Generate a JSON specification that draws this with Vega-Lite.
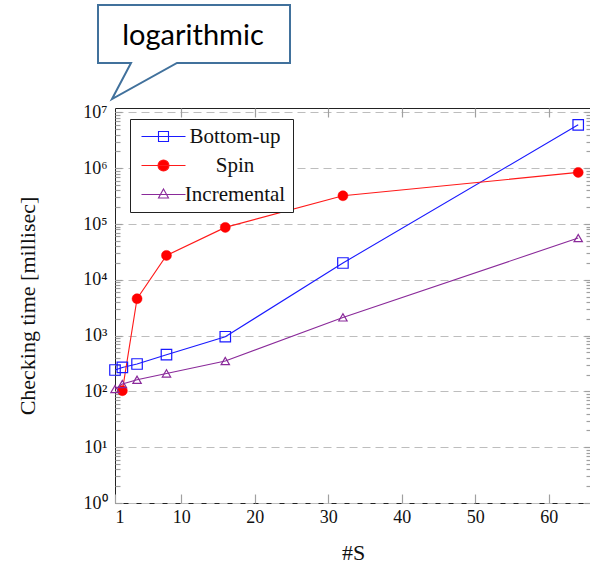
{
  "$schema": "https://vega.github.io/schema/vega-lite/v6.json",
  "width": 476,
  "height": 395,
  "autosize": "none",
  "padding": {"left": 115, "top": 108, "right": 0, "bottom": 65},
  "background": "white",
  "config": {
    "font": "Liberation Serif",
    "view": {"stroke": "#222222", "strokeWidth": 1},
    "axis": {
      "labelFont": "Liberation Serif",
      "titleFont": "Liberation Serif",
      "labelColor": "#111111",
      "titleColor": "#111111",
      "titleFontWeight": "normal",
      "tickColor": "#a0a0a0",
      "tickWidth": 1.2,
      "domain": false
    },
    "legend": {"labelFont": "Liberation Serif"}
  },
  "datasets": {
    "runs": [
      {"series": "Bottom-up", "s": 1, "time": 242},
      {"series": "Bottom-up", "s": 2, "time": 269},
      {"series": "Bottom-up", "s": 4, "time": 310},
      {"series": "Bottom-up", "s": 8, "time": 455},
      {"series": "Bottom-up", "s": 16, "time": 955},
      {"series": "Bottom-up", "s": 32, "time": 20000},
      {"series": "Bottom-up", "s": 64, "time": 6000000},
      {"series": "Spin", "s": 2, "time": 103},
      {"series": "Spin", "s": 4, "time": 4580},
      {"series": "Spin", "s": 8, "time": 27400},
      {"series": "Spin", "s": 16, "time": 87000},
      {"series": "Spin", "s": 32, "time": 321000},
      {"series": "Spin", "s": 64, "time": 841000},
      {"series": "Incremental", "s": 1, "time": 110},
      {"series": "Incremental", "s": 2, "time": 136},
      {"series": "Incremental", "s": 4, "time": 162},
      {"series": "Incremental", "s": 8, "time": 210},
      {"series": "Incremental", "s": 16, "time": 351},
      {"series": "Incremental", "s": 32, "time": 2120},
      {"series": "Incremental", "s": 64, "time": 56000}
    ]
  },
  "layer": [
    {
      "data": {"name": "runs"},
      "mark": {"type": "line", "strokeWidth": 1.1, "opacity": 1},
      "encoding": {
        "x": {
          "field": "s", "type": "quantitative",
          "scale": {"domain": [1, 65.74], "nice": false, "zero": false},
          "axis": {
            "orient": "bottom", "values": [1, 10, 20, 30, 40, 50, 60],
            "tickSize": -9, "labelPadding": 14, "labelFontSize": 18, "labelFont": "Liberation Serif",
            "grid": false, "title": "#S", "titleFontSize": 22, "titleFont": "Liberation Serif", "titlePadding": 16
          }
        },
        "y": {
          "field": "time", "type": "quantitative",
          "scale": {"type": "log", "domain": [1, 12000000], "nice": false},
          "axis": {
            "orient": "left",
            "values": [1, 10, 100, 1000, 10000, 100000, 1000000, 10000000],
            "labelExpr": "'10' + ['⁰','¹','²','³','⁴','⁵','⁶','⁷'][round(log(datum.value)/LN10)]",
            "tickSize": -7, "labelPadding": 15, "labelFontSize": 18, "labelFont": "Liberation Serif",
            "grid": true, "gridDash": [8, 5], "gridColor": "#bdbdbd", "gridWidth": 1.2,
            "title": "Checking time [millisec]", "titleFontSize": 22, "titleFont": "Liberation Serif", "titlePadding": 43
          }
        },
        "color": {
          "field": "series", "type": "nominal",
          "scale": {"domain": ["Spin", "Bottom-up", "Incremental"], "range": ["#ff1a1a", "#1a1aff", "#8a2a9a"]},
          "legend": null
        }
      }
    },
    {
      "data": {"name": "runs"},
      "transform": [{"filter": "datum.series === 'Bottom-up'"}],
      "mark": {"type": "point", "shape": "square", "size": 110, "filled": false, "stroke": "#1a1aff", "strokeWidth": 1.2, "opacity": 1},
      "encoding": {
        "x": {
          "field": "s", "type": "quantitative",
          "scale": {"domain": [1, 65.74], "nice": false, "zero": false},
          "axis": {
            "orient": "top", "values": [10, 20, 30, 40, 50, 60],
            "tickSize": -9, "labels": false, "grid": false, "title": null
          }
        },
        "y": {
          "field": "time", "type": "quantitative",
          "scale": {"type": "log", "domain": [1, 12000000], "nice": false},
          "axis": {
            "orient": "left",
            "values": [2,3,4,5,6,7,8,9,20,30,40,50,60,70,80,90,200,300,400,500,600,700,800,900,2000,3000,4000,5000,6000,7000,8000,9000,20000,30000,40000,50000,60000,70000,80000,90000,200000,300000,400000,500000,600000,700000,800000,900000,2000000,3000000,4000000,5000000,6000000,7000000,8000000,9000000],
            "tickSize": -5, "labels": false, "grid": false, "title": null
          }
        }
      }
    },
    {
      "data": {"name": "runs"},
      "transform": [{"filter": "datum.series === 'Spin'"}],
      "mark": {"type": "point", "shape": "circle", "size": 100, "filled": true, "fill": "#ff0000", "stroke": "#ff0000", "strokeWidth": 0.5, "opacity": 1},
      "encoding": {
        "x": {"field": "s", "type": "quantitative", "scale": {"domain": [1, 65.74], "nice": false, "zero": false}, "axis": null},
        "y": {"field": "time", "type": "quantitative", "scale": {"type": "log", "domain": [1, 12000000], "nice": false}, "axis": null}
      }
    },
    {
      "data": {"name": "runs"},
      "transform": [{"filter": "datum.series === 'Incremental'"}],
      "mark": {"type": "point", "shape": "triangle-up", "size": 70, "filled": false, "stroke": "#8a2a9a", "strokeWidth": 1.2, "opacity": 1},
      "encoding": {
        "x": {"field": "s", "type": "quantitative", "scale": {"domain": [1, 65.74], "nice": false, "zero": false}, "axis": null},
        "y": {"field": "time", "type": "quantitative", "scale": {"type": "log", "domain": [1, 12000000], "nice": false}, "axis": null}
      }
    },
    {
      "data": {"name": "runs"},
      "mark": {"type": "point", "filled": false, "opacity": 0},
      "encoding": {
        "x": {"field": "s", "type": "quantitative", "scale": {"domain": [1, 65.74], "nice": false, "zero": false}, "axis": null},
        "y": {"field": "time", "type": "quantitative", "scale": {"type": "log", "domain": [1, 12000000], "nice": false}, "axis": null},
        "shape": {
          "field": "series", "type": "nominal",
          "scale": {
            "domain": ["Bottom-up", "Spin", "Incremental"],
            "range": ["M-1.2,0H7.6M2.2,-1H4.2V1H2.2Z", "M-1.2,0H7.6M2.1,0A1.1,1.1 0 1,0 4.3,0A1.1,1.1 0 1,0 2.1,0Z", "M-1.2,0H7.6M3.2,-1.1L4.2,0.7H2.2Z"]
          },
          "legend": {
            "title": null, "orient": "none", "legendX": 15, "legendY": 11,
            "direction": "vertical",
            "fillColor": "white", "strokeColor": "#222222", "padding": 7,
            "labelFont": "Liberation Serif", "labelFontSize": 21, "labelColor": "#111111",
            "labelAlign": "center", "labelOffset": 77, "labelLimit": 0,
            "symbolSize": 100, "symbolStrokeWidth": 1.1, "symbolOpacity": 1, "rowPadding": 7
          }
        },
        "stroke": {
          "field": "series", "type": "nominal",
          "scale": {"domain": ["Bottom-up", "Spin", "Incremental"], "range": ["#1a1aff", "#ff1a1a", "#8a2a9a"]},
          "legend": {
            "title": null, "orient": "none", "legendX": 15, "legendY": 11,
            "direction": "vertical",
            "fillColor": "white", "strokeColor": "#222222", "padding": 7,
            "labelFont": "Liberation Serif", "labelFontSize": 21, "labelColor": "#111111",
            "labelAlign": "center", "labelOffset": 77, "labelLimit": 0,
            "symbolSize": 100, "symbolStrokeWidth": 1.1, "symbolOpacity": 1, "rowPadding": 7
          }
        },
        "fill": {
          "field": "series", "type": "nominal",
          "scale": {"domain": ["Bottom-up", "Spin", "Incremental"], "range": ["transparent", "#ff0000", "transparent"]},
          "legend": {
            "title": null, "orient": "none", "legendX": 15, "legendY": 11,
            "direction": "vertical",
            "fillColor": "white", "strokeColor": "#222222", "padding": 7,
            "labelFont": "Liberation Serif", "labelFontSize": 21, "labelColor": "#111111",
            "labelAlign": "center", "labelOffset": 77, "labelLimit": 0,
            "symbolSize": 100, "symbolStrokeWidth": 1.1, "symbolOpacity": 1, "rowPadding": 7
          }
        }
      }
    },
    {
      "data": {"values": [{}]},
      "mark": {
        "type": "point", "filled": true, "fill": "white", "stroke": "#41719c", "strokeWidth": 2,
        "opacity": 1, "size": 4,
        "shape": "M-3,-9L16,-45L-17,-45L-17,-103L175,-103L175,-45L62,-45Z"
      },
      "encoding": {
        "x": {"datum": 1, "type": "quantitative", "scale": {"domain": [1, 65.74], "nice": false, "zero": false}, "axis": null},
        "y": {
          "datum": 12000000, "type": "quantitative",
          "scale": {"type": "log", "domain": [1, 12000000], "nice": false},
          "axis": {
            "orient": "right",
            "values": [1, 10, 100, 1000, 10000, 100000, 1000000, 10000000],
            "tickSize": -7, "labels": false, "grid": false, "title": null
          }
        }
      }
    },
    {
      "data": {"values": [{"note": "logarithmic"}]},
      "mark": {
        "type": "text", "font": "Lato", "fontSize": 29, "color": "#000000",
        "align": "center", "baseline": "alphabetic", "dx": 78, "dy": -63
      },
      "encoding": {
        "text": {"field": "note"},
        "x": {"datum": 1, "type": "quantitative", "scale": {"domain": [1, 65.74], "nice": false, "zero": false}, "axis": null},
        "y": {
          "datum": 12000000, "type": "quantitative",
          "scale": {"type": "log", "domain": [1, 12000000], "nice": false},
          "axis": {
            "orient": "right",
            "values": [2,3,4,5,6,7,8,9,20,30,40,50,60,70,80,90,200,300,400,500,600,700,800,900,2000,3000,4000,5000,6000,7000,8000,9000,20000,30000,40000,50000,60000,70000,80000,90000,200000,300000,400000,500000,600000,700000,800000,900000,2000000,3000000,4000000,5000000,6000000,7000000,8000000,9000000],
            "tickSize": -5, "labels": false, "grid": false, "title": null
          }
        }
      }
    }
  ],
  "resolve": {"axis": {"x": "independent", "y": "independent"}}
}
